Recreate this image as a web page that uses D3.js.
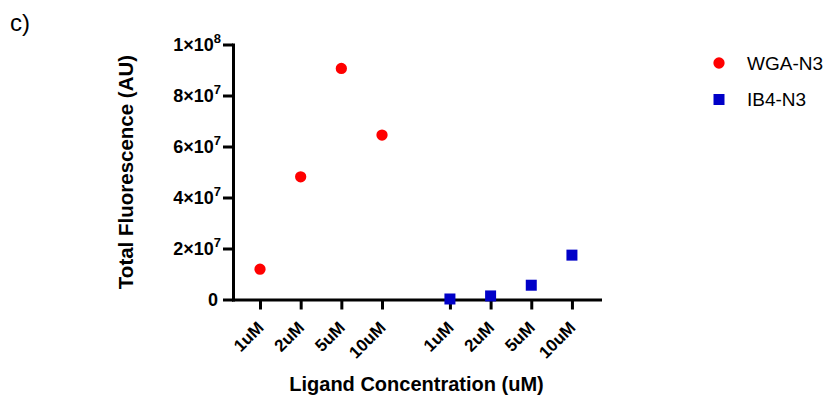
<!DOCTYPE html>
<html>
<head>
<meta charset="utf-8">
<script src="https://cdn.jsdelivr.net/npm/d3@7"></script>
<style>
  html, body { margin: 0; padding: 0; background: #fff; }
  svg { display: block; font-family: "Liberation Sans", Arial, sans-serif; }
</style>
</head>
<body>
<svg id="chart" width="828" height="399"></svg>
<script>
// ---- data ----
const concentrations = ["1uM", "2uM", "5uM", "10uM"];
const wgaValues = [1.19e7, 4.81e7, 9.06e7, 6.45e7];
const ib4Values = [0.02e7, 0.14e7, 0.56e7, 1.74e7];
const seriesNames = ["WGA-N3", "IB4-N3"];
const seriesColors = ["#ff0000", "#0000c8"];
const yTicks = [0, 2e7, 4e7, 6e7, 8e7, 1e8];
const groupOffset = 4.67; // second group starts after a gap

const svg = d3.select("#chart");
const mLeft = 233, mRight = 600, mTop = 44.5, mBottom = 299.5;

// x positions: slot index within group + group offset
const xPos = [];
const xLabels = [];
[0, 1].forEach(g => concentrations.forEach((c, i) => { xPos.push(i + g * groupOffset); xLabels.push(c); }));

const x = d3.scaleLinear().domain([-0.664, 8.36]).range([mLeft, mRight]);
const y = d3.scaleLinear().domain([0, 1e8]).range([mBottom, mTop]);

// label "c)"
svg.append("text").attr("x", 10).attr("y", 31).attr("font-size", 24).attr("fill", "#000").text("c)");

// Y axis
const yAxis = svg.append("g").attr("transform", `translate(${mLeft},0)`)
  .call(d3.axisLeft(y).tickValues(yTicks).tickSize(10).tickSizeOuter(0).tickPadding(5).tickFormat(""));
yAxis.select(".domain").attr("stroke", "#000").attr("stroke-width", 3).attr("stroke-linecap", "square");
yAxis.selectAll(".tick line").attr("stroke", "#000").attr("stroke-width", 3);
yAxis.selectAll(".tick").each(function(d) {
  const t = d3.select(this).append("text")
    .attr("x", d === 0 ? -15 : -12).attr("y", 0).attr("dy", "0.36em")
    .attr("text-anchor", "end").attr("fill", "#000")
    .attr("font-size", 18).attr("font-weight", "bold");
  if (d === 0) { t.text("0"); return; }
  const exp = Math.floor(Math.log10(d));
  const mant = Math.round(d / Math.pow(10, exp));
  t.append("tspan").text(mant + "\u00d710");
  t.append("tspan").attr("dy", -8).attr("font-size", 13).text(exp);
});

// X axis
const xAxis = svg.append("g").attr("transform", `translate(0,${mBottom})`)
  .call(d3.axisBottom(x).tickValues(xPos).tickSize(10).tickSizeOuter(0).tickFormat(""));
xAxis.select(".domain").attr("stroke", "#000").attr("stroke-width", 3).attr("stroke-linecap", "square");
xAxis.selectAll(".tick line").attr("stroke", "#000").attr("stroke-width", 3);
xAxis.selectAll(".tick").each(function(d, i) {
  d3.select(this).append("text")
    .attr("transform", "translate(0,25) rotate(-45)")
    .attr("text-anchor", "end").attr("dy", "0.35em")
    .attr("fill", "#000").attr("font-size", 17).attr("font-weight", "bold")
    .text(xLabels[i]);
});

// axis titles
svg.append("text")
  .attr("transform", `translate(133,${(mTop + mBottom) / 2}) rotate(-90)`)
  .attr("text-anchor", "middle").attr("font-size", 20.5).attr("font-weight", "bold").attr("fill", "#000")
  .text("Total Fluorescence (AU)");
svg.append("text")
  .attr("x", (mLeft + mRight) / 2).attr("y", 391)
  .attr("text-anchor", "middle").attr("font-size", 20).attr("font-weight", "bold").attr("fill", "#000")
  .text("Ligand Concentration (uM)");

// points
const sym = [d3.symbolCircle, d3.symbolSquare];
const symSize = [100, 121];
const plot = svg.append("g");
plot.selectAll("path.wga").data(wgaValues).join("path").attr("class", "wga")
  .attr("transform", (d, i) => `translate(${x(xPos[i])},${y(d)})`)
  .attr("d", d3.symbol(sym[0], symSize[0])).attr("fill", seriesColors[0]);
plot.selectAll("path.ib4").data(ib4Values).join("path").attr("class", "ib4")
  .attr("transform", (d, i) => `translate(${x(xPos[i + 4])},${y(d)})`)
  .attr("d", d3.symbol(sym[1], symSize[1])).attr("fill", seriesColors[1]);

// legend
const legY = [63, 99.5];
const leg = svg.append("g");
seriesNames.forEach((name, i) => {
  leg.append("path").attr("transform", `translate(719,${legY[i]})`)
    .attr("d", d3.symbol(sym[i], symSize[i])).attr("fill", seriesColors[i]);
  leg.append("text").attr("x", 747).attr("y", legY[i]).attr("dy", "0.36em")
    .attr("font-size", 19).attr("fill", "#000").text(name);
});
</script>
</body>
</html>
